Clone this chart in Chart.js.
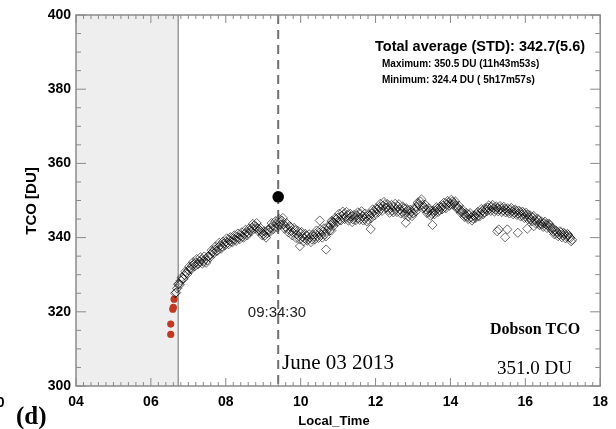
<!DOCTYPE html>
<html><head><meta charset="utf-8">
<script src="https://cdn.jsdelivr.net/npm/chart.js@4/dist/chart.umd.min.js"></script>
<style>html,body{margin:0;padding:0;background:#fff;}#wrap{width:616px;height:429px;}</style>
</head><body><div id="wrap"><canvas id="c" width="616" height="429"></canvas></div>
<script>
// ---- data ----
const localTime = [
  6.65, 6.70, 6.75, 6.80, 6.85, 6.90, 6.95, 7.00, 7.05, 7.10,
  7.15, 7.20, 7.25, 7.30, 7.35, 7.40, 7.45, 7.50, 7.55, 7.60,
  7.65, 7.70, 7.75, 7.80, 7.85, 7.90, 7.95, 8.00, 8.05, 8.10,
  8.15, 8.20, 8.25, 8.30, 8.35, 8.40, 8.45, 8.50, 8.55, 8.60,
  8.65, 8.70, 8.75, 8.80, 8.85, 8.90, 8.95, 9.00, 9.05, 9.10,
  9.15, 9.20, 9.25, 9.30, 9.35, 9.40, 9.45, 9.50, 9.55, 9.60,
  9.65, 9.70, 9.75, 9.80, 9.85, 9.90, 9.95, 10.00, 10.05, 10.10,
  10.15, 10.20, 10.25, 10.30, 10.35, 10.40, 10.45, 10.50, 10.55, 10.60,
  10.65, 10.70, 10.75, 10.80, 10.85, 10.90, 10.95, 11.00, 11.05, 11.10,
  11.15, 11.20, 11.25, 11.30, 11.35, 11.40, 11.45, 11.50, 11.55, 11.60,
  11.65, 11.70, 11.75, 11.80, 11.85, 11.90, 11.95, 12.00, 12.05, 12.10,
  12.15, 12.20, 12.25, 12.30, 12.35, 12.40, 12.45, 12.50, 12.55, 12.60,
  12.65, 12.70, 12.75, 12.80, 12.85, 12.90, 12.95, 13.00, 13.05, 13.10,
  13.15, 13.20, 13.25, 13.30, 13.35, 13.40, 13.45, 13.50, 13.55, 13.60,
  13.65, 13.70, 13.75, 13.80, 13.85, 13.90, 13.95, 14.00, 14.05, 14.10,
  14.15, 14.20, 14.25, 14.30, 14.35, 14.40, 14.45, 14.50, 14.55, 14.60,
  14.65, 14.70, 14.75, 14.80, 14.85, 14.90, 14.95, 15.00, 15.05, 15.10,
  15.15, 15.20, 15.25, 15.30, 15.35, 15.40, 15.45, 15.50, 15.55, 15.60,
  15.65, 15.70, 15.75, 15.80, 15.85, 15.90, 15.95, 16.00, 16.05, 16.10,
  16.15, 16.20, 16.25, 16.30, 16.35, 16.40, 16.45, 16.50, 16.55, 16.60,
  16.65, 16.70, 16.75, 16.80, 16.85, 16.90, 16.95, 17.00, 17.05, 17.10,
  17.15, 17.20, 17.25
];
const tcoValues = [
  325.0, 326.3, 327.5, 328.4, 329.0, 329.9, 330.5, 331.2, 331.6, 332.4,
  332.9, 333.3, 332.8, 333.6, 334.0, 333.5, 334.2, 333.8, 335.0, 335.6,
  336.1, 336.8, 336.3, 337.4, 337.9, 337.6, 338.4, 338.9, 338.6, 339.3,
  339.0, 339.8, 339.5, 340.2, 340.0, 340.6, 340.3, 341.0, 341.4, 341.2,
  342.0, 342.6, 343.2, 343.0, 342.5, 342.1, 341.5, 341.0, 340.6, 341.2,
  342.0, 342.6, 343.3, 343.0, 343.8, 343.4, 344.2, 344.6, 343.6, 342.9,
  342.3, 343.1, 341.8, 341.3, 342.0, 340.9, 340.4, 341.2, 340.2, 339.8,
  340.5, 339.6, 340.1, 339.5, 340.3, 341.0, 340.4, 341.3, 340.7, 341.6,
  340.9, 341.8, 342.6, 343.4, 344.3, 344.0, 345.0, 345.4, 344.8, 345.9,
  346.3, 345.6, 346.1, 345.2, 345.7, 344.9, 345.5, 346.0, 345.3, 346.4,
  345.8, 345.1, 345.6, 344.8, 345.9, 346.5, 347.1, 346.7, 347.6, 348.2,
  347.8, 348.6, 349.0, 348.1, 347.4, 348.0, 347.3, 348.3, 347.7, 348.4,
  347.6, 347.1, 347.9, 346.8, 347.4, 346.4, 346.9, 346.5, 347.5, 348.3,
  349.1, 349.7, 348.8, 348.2, 347.6, 346.9, 347.3, 346.4, 346.9, 347.2,
  347.8, 347.4, 348.1, 348.6, 348.2, 349.0, 349.4, 349.1, 349.7, 349.3,
  348.6, 348.0, 347.5, 347.1, 346.5, 346.0, 345.6, 346.2, 345.4, 345.1,
  345.8, 346.3, 345.9, 346.7, 347.2, 346.8, 347.6, 348.1, 347.7, 348.3,
  347.9, 347.5, 348.0, 347.6, 347.9, 347.3, 347.8, 347.4, 347.0, 347.6,
  347.1, 346.7, 347.2, 346.5, 346.9, 346.2, 346.6, 345.8, 346.2, 345.4,
  345.0, 345.5, 344.7, 344.3, 344.8, 343.9, 343.5, 343.9, 343.6, 343.2,
  343.4, 342.1, 341.6, 342.0, 341.2, 340.9, 341.4, 340.6, 341.0, 340.3,
  340.7, 339.9, 339.4
];
// second interleaved set of retrievals (between the times above)
const localTimeB = [
  6.675, 6.725, 6.775, 6.825, 6.875, 6.925, 6.975, 7.025, 7.075, 7.125,
  7.175, 7.225, 7.275, 7.325, 7.375, 7.425, 7.475, 7.525, 7.575, 7.625,
  7.675, 7.725, 7.775, 7.825, 7.875, 7.925, 7.975, 8.025, 8.075, 8.125,
  8.175, 8.225, 8.275, 8.325, 8.375, 8.425, 8.475, 8.525, 8.575, 8.625,
  8.675, 8.725, 8.775, 8.825, 8.875, 8.925, 8.975, 9.025, 9.075, 9.125,
  9.175, 9.225, 9.275, 9.325, 9.375, 9.425, 9.475, 9.525, 9.575, 9.625,
  9.675, 9.725, 9.775, 9.825, 9.875, 9.925, 9.975, 10.025, 10.075, 10.125,
  10.175, 10.225, 10.275, 10.325, 10.375, 10.425, 10.475, 10.525, 10.575, 10.625,
  10.675, 10.725, 10.775, 10.825, 10.875, 10.925, 10.975, 11.025, 11.075, 11.125,
  11.175, 11.225, 11.275, 11.325, 11.375, 11.425, 11.475, 11.525, 11.575, 11.625,
  11.675, 11.725, 11.775, 11.825, 11.875, 11.925, 11.975, 12.025, 12.075, 12.125,
  12.175, 12.225, 12.275, 12.325, 12.375, 12.425, 12.475, 12.525, 12.575, 12.625,
  12.675, 12.725, 12.775, 12.825, 12.875, 12.925, 12.975, 13.025, 13.075, 13.125,
  13.175, 13.225, 13.275, 13.325, 13.375, 13.425, 13.475, 13.525, 13.575, 13.625,
  13.675, 13.725, 13.775, 13.825, 13.875, 13.925, 13.975, 14.025, 14.075, 14.125,
  14.175, 14.225, 14.275, 14.325, 14.375, 14.425, 14.475, 14.525, 14.575, 14.625,
  14.675, 14.725, 14.775, 14.825, 14.875, 14.925, 14.975, 15.025, 15.075, 15.125,
  15.175, 15.225, 15.275, 15.325, 15.375, 15.425, 15.475, 15.525, 15.575, 15.625,
  15.675, 15.725, 15.775, 15.825, 15.875, 15.925, 15.975, 16.025, 16.075, 16.125,
  16.175, 16.225, 16.275, 16.325, 16.375, 16.425, 16.475, 16.525, 16.575, 16.625,
  16.675, 16.725, 16.775, 16.825, 16.875, 16.925, 16.975, 17.025, 17.075, 17.125,
  17.175, 17.225
];
const tcoValuesB = [
  325.2, 327.4, 327.3, 329.3, 328.9, 330.9, 330.2, 332.2, 331.4, 333.4,
  332.3, 334.2, 333.0, 334.7, 333.0, 334.9, 333.2, 334.9, 334.7, 336.6,
  335.7, 337.6, 336.5, 338.6, 337.0, 338.9, 337.9, 339.8, 338.2, 340.1,
  338.7, 340.6, 339.1, 341.1, 339.6, 341.4, 340.0, 342.1, 340.6, 342.5,
  341.6, 343.7, 342.4, 343.9, 341.7, 342.6, 340.6, 341.7, 340.0, 342.1,
  341.5, 343.9, 342.3, 344.4, 342.7, 345.0, 343.5, 345.3, 342.4, 343.9,
  341.4, 342.9, 340.6, 342.6, 339.9, 341.8, 339.5, 341.5, 339.0, 341.0,
  339.2, 340.9, 338.8, 340.8, 339.5, 341.9, 339.9, 342.2, 340.0, 342.5,
  340.3, 343.0, 341.9, 344.5, 343.1, 345.3, 344.2, 346.4, 344.6, 347.0,
  345.0, 346.9, 344.6, 346.4, 344.2, 346.1, 344.7, 346.8, 344.8, 347.1,
  344.6, 346.5, 344.3, 346.3, 345.2, 347.6, 346.0, 347.9, 346.9, 349.1,
  347.2, 349.6, 348.0, 349.0, 346.7, 348.8, 346.8, 349.1, 346.9, 349.0,
  346.5, 348.4, 346.2, 347.9, 345.7, 347.5, 345.8, 347.9, 347.0, 349.4,
  348.6, 350.3, 347.9, 348.9, 346.6, 347.9, 345.9, 347.3, 346.3, 348.2,
  346.9, 348.4, 347.6, 349.4, 347.9, 349.9, 348.6, 350.2, 348.9, 349.8,
  347.8, 348.6, 346.7, 347.5, 345.6, 346.6, 345.0, 346.6, 344.6, 346.0,
  345.3, 346.9, 345.7, 347.7, 346.3, 347.9, 347.1, 348.7, 347.2, 348.8,
  347.0, 348.4, 347.1, 348.5, 346.9, 348.3, 346.8, 347.9, 346.5, 348.0,
  346.3, 347.6, 346.1, 347.3, 345.7, 347.0, 345.3, 346.7, 344.9, 346.0,
  344.4, 345.8, 343.8, 345.1, 343.4, 344.4, 342.9, 344.3, 342.6, 343.8,
  342.7, 342.6, 340.9, 341.8, 340.4, 341.7, 340.1, 341.3, 339.8, 341.0,
  340.1, 339.0
];
const outlierTime = [9.98, 10.51, 10.68, 10.82, 10.86, 11.87, 12.81, 13.52, 15.25, 15.29, 15.46, 15.52, 15.80, 16.05, 16.23];
const outlierTco  = [337.7, 344.6, 336.8, 341.9, 344.0, 342.3, 344.0, 343.4, 341.7, 342.2, 340.1, 342.2, 341.3, 342.4, 343.1];
const earlyTime = [6.53, 6.53, 6.585, 6.60, 6.62];
const earlyTco  = [313.9, 316.7, 320.7, 321.2, 323.4];
const dobsonTime = [9.4];
const dobsonTco  = [351.0];
const shadeRange = [4, 6.73];
const markerTime = 9.4;
const xTickValues = [4, 6, 8, 10, 12, 14, 16, 18];
const yTickValues = [300, 320, 340, 360, 380, 400];

const pts = (xs, ys) => xs.map((v, i) => ({x: v, y: ys[i]}));

const SANS = "'Liberation Sans', Arial, Helvetica, sans-serif";
const SERIF = "'Liberation Serif', 'Times New Roman', serif";

const decorPlugin = {
  id: 'decor',
  beforeDatasetsDraw(chart) {
    const {ctx, chartArea: a, scales: {x}} = chart;
    ctx.save();
    const xs = x.getPixelForValue(shadeRange[0]);
    const xe = x.getPixelForValue(shadeRange[1]);
    ctx.fillStyle = '#eeeeee';
    ctx.fillRect(xs, a.top, xe - xs, a.bottom - a.top);
    ctx.strokeStyle = '#999999';
    ctx.lineWidth = 1.5;
    ctx.beginPath(); ctx.moveTo(xe, a.top); ctx.lineTo(xe, a.bottom); ctx.stroke();
    const xd = x.getPixelForValue(markerTime);
    ctx.strokeStyle = '#707070';
    ctx.lineWidth = 2;
    ctx.setLineDash([9, 6]);
    ctx.beginPath(); ctx.moveTo(xd, a.top); ctx.lineTo(xd, a.bottom); ctx.stroke();
    ctx.restore();
  },
  afterDatasetsDraw(chart) {
    const {ctx, chartArea: a, scales: {x, y}} = chart;
    ctx.save();
    ctx.strokeStyle = '#8a8a8a';
    ctx.lineWidth = 1;
    ctx.beginPath();
    for (let v = 300; v <= 400; v += 5) {
      const py = y.getPixelForValue(v);
      const len = (v % 20 === 0) ? 10 : 5;
      ctx.moveTo(a.left, py); ctx.lineTo(a.left + len, py);
      ctx.moveTo(a.right, py); ctx.lineTo(a.right - len, py);
    }
    for (let k = 0; k <= 70; k++) {
      const v = 4 + k * 0.2;
      const px = x.getPixelForValue(v);
      const len = (k % 10 === 0) ? 8 : 4;
      ctx.moveTo(px, a.bottom); ctx.lineTo(px, a.bottom - len);
      ctx.moveTo(px, a.top); ctx.lineTo(px, a.top + len);
    }
    ctx.stroke();
    ctx.lineWidth = 1.5;
    ctx.strokeRect(a.left, a.top, a.right - a.left, a.bottom - a.top);
    ctx.restore();
  },
  afterDraw(chart) {
    const {ctx} = chart;
    ctx.save();
    ctx.fillStyle = '#000';
    ctx.textBaseline = 'middle';
    ctx.textAlign = 'left';
    ctx.font = 'bold 14.5px ' + SANS;
    ctx.fillText('Total average (STD): 342.7(5.6)', 375, 47);
    ctx.font = 'bold 10px ' + SANS;
    ctx.fillText('Maximum: 350.5 DU (11h43m53s)', 382, 64);
    ctx.fillText('Minimum: 324.4 DU ( 5h17m57s)', 382, 80);
    ctx.font = '15px ' + SANS;
    ctx.fillStyle = '#222';
    ctx.textAlign = 'center';
    ctx.fillText('09:34:30', 277, 313);
    ctx.fillStyle = '#000';
    ctx.textAlign = 'left';
    ctx.font = '21px ' + SERIF;
    ctx.fillText('June 03 2013', 282, 363);
    ctx.font = 'bold 16px ' + SERIF;
    ctx.fillText('Dobson TCO', 490, 330);
    ctx.font = '19px ' + SERIF;
    ctx.fillText('351.0 DU', 497, 369);
    ctx.font = 'bold 25px ' + SERIF;
    ctx.fillText('(d)', 16, 418);
    ctx.font = 'bold 14px ' + SANS;
    ctx.textAlign = 'right';
    ctx.fillText('0', 4.5, 403);
    ctx.textAlign = 'center';
    ctx.font = 'bold 13px ' + SANS;
    ctx.fillText('Local_Time', 334, 421);
    ctx.translate(32, 201);
    ctx.rotate(-Math.PI / 2);
    ctx.font = 'bold 15px ' + SANS;
    ctx.fillText('TCO [DU]', 0, 0);
    ctx.restore();
  }
};

const diamondStyle = { pointStyle: 'rectRot', pointRadius: 4.6,
  borderColor: 'rgba(0,0,0,0.58)', backgroundColor: 'rgba(0,0,0,0)', borderWidth: 1 };

new Chart(document.getElementById('c').getContext('2d'), {
  type: 'scatter',
  data: {
    datasets: [
      Object.assign({ label: 'TCO', data: pts(localTime, tcoValues) }, diamondStyle),
      Object.assign({ label: 'TCO b', data: pts(localTimeB, tcoValuesB) }, diamondStyle),
      Object.assign({ label: 'TCO outliers', data: pts(outlierTime, outlierTco) }, diamondStyle),
      { label: 'early', data: pts(earlyTime, earlyTco), pointStyle: 'circle', pointRadius: 3.6,
        borderColor: '#bf3a22', backgroundColor: '#bf3a22', borderWidth: 0 },
      { label: 'Dobson', data: pts(dobsonTime, dobsonTco), pointStyle: 'circle', pointRadius: 5.8,
        borderColor: '#000', backgroundColor: '#000', borderWidth: 0 }
    ]
  },
  options: {
    responsive: false,
    animation: false,
    events: [],
    layout: { padding: { left: 0, right: 13, top: 15, bottom: 0 } },
    plugins: { legend: { display: false }, tooltip: { enabled: false } },
    scales: {
      x: {
        type: 'linear', min: 4, max: 18,
        afterBuildTicks: (s) => { s.ticks = xTickValues.map(v => ({value: v})); },
        afterFit: (s) => { s.height = 43; },
        grid: { display: false, drawTicks: false },
        border: { display: false },
        ticks: { padding: 8, color: '#000', font: { family: SANS, size: 14, weight: 'bold' },
                 callback: (v) => String(v).padStart(2, '0') }
      },
      y: {
        type: 'linear', min: 300, max: 400,
        afterBuildTicks: (s) => { s.ticks = yTickValues.map(v => ({value: v})); },
        afterFit: (s) => { s.width = 76; },
        grid: { display: false, drawTicks: false },
        border: { display: false },
        ticks: { padding: 5, color: '#000', font: { family: SANS, size: 14, weight: 'bold' } }
      }
    }
  },
  plugins: [decorPlugin]
});
</script>
</body></html>
